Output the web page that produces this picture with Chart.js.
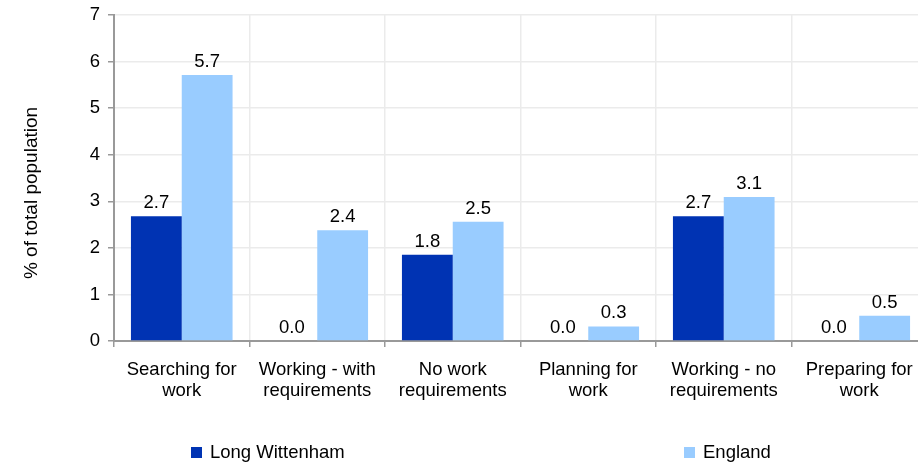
<!DOCTYPE html>
<html>
<head>
<meta charset="utf-8">
<script src="https://cdn.jsdelivr.net/npm/chart.js@4.4.0/dist/chart.umd.min.js"></script>
<style>
  html, body { margin: 0; padding: 0; background: #fff; overflow: hidden; }
  #wrap { position: relative; width: 927px; height: 463px; }
  #legend { position: absolute; left: 0; top: 0; width: 918px; height: 463px; pointer-events: none;
            font-family: "Liberation Sans", Arial, sans-serif; font-size: 18.5px; color: #000; }
  .li { position: absolute; display: flex; align-items: center; white-space: nowrap; }
  .sw { width: 11px; height: 11px; margin-right: 8px; }
</style>
</head>
<body>
<div id="wrap">
  <canvas id="c" width="927" height="463"></canvas>
  <div id="legend"></div>
</div>
<script>
const categories = [
  ["Searching for", "work"],
  ["Working - with", "requirements"],
  ["No work", "requirements"],
  ["Planning for", "work"],
  ["Working - no", "requirements"],
  ["Preparing for", "work"]
];
const seriesNames = ["Long Wittenham", "England"];
// bar heights
const longWittenham = [2.68, 0.0, 1.85, 0.0, 2.68, 0.0];
const england = [5.71, 2.38, 2.56, 0.31, 3.09, 0.54];
// value labels as printed on the chart
const longWittenhamLabels = ["2.7", "0.0", "1.8", "0.0", "2.7", "0.0"];
const englandLabels = ["5.7", "2.4", "2.5", "0.3", "3.1", "0.5"];
const seriesColors = ["#0033B3", "#99CCFF"];
const yTicks = [0, 1, 2, 3, 4, 5, 6, 7];
const yTitle = "% of total population";

const FONT = "'Liberation Sans', Arial, sans-serif";
const FS = 18.5;
const labelSets = [longWittenhamLabels, englandLabels];

const valueLabels = {
  id: 'valueLabels',
  afterDatasetsDraw(chart) {
    const ctx = chart.ctx;
    ctx.save();
    ctx.font = FS + "px " + FONT;
    ctx.fillStyle = "#000";
    ctx.textAlign = "center";
    ctx.textBaseline = "bottom";
    chart.data.datasets.forEach((ds, i) => {
      const meta = chart.getDatasetMeta(i);
      meta.data.forEach((bar, j) => {
        ctx.fillText(labelSets[i][j], bar.x, bar.y - 4);
      });
    });
    ctx.restore();
  }
};

const yTitlePlugin = {
  id: 'yTitlePlugin',
  afterDraw(chart) {
    const ctx = chart.ctx;
    const a = chart.chartArea;
    ctx.save();
    ctx.font = "19px " + FONT;
    ctx.fillStyle = "#000";
    ctx.textAlign = "center";
    ctx.textBaseline = "middle";
    ctx.translate(32, (a.top + a.bottom) / 2 + 15);
    ctx.rotate(-Math.PI / 2);
    ctx.fillText(yTitle, 0, 0);
    ctx.restore();
  }
};

const chart = new Chart(document.getElementById('c'), {
  type: 'bar',
  data: {
    labels: categories,
    datasets: [
      { label: seriesNames[0], data: longWittenham, backgroundColor: seriesColors[0] },
      { label: seriesNames[1], data: england, backgroundColor: seriesColors[1] }
    ]
  },
  options: {
    responsive: false,
    animation: false,
    devicePixelRatio: 1,
    layout: { padding: { top: 15, right: 0, bottom: 0, left: 0 } },
    plugins: { legend: { display: false }, tooltip: { enabled: false } },
    datasets: { bar: { categoryPercentage: 0.75, barPercentage: 1.0 } },
    scales: {
      x: {
        offset: true,
        grid: { offset: true, color: "#ebebeb", lineWidth: 1.5, tickColor: "#999", tickLength: 6, drawOnChartArea: true },
        border: { color: "#999", width: 2 },
        ticks: { color: "#000", font: { family: FONT, size: FS, lineHeight: 1.1 }, padding: 13, maxRotation: 0, autoSkip: false },
        afterFit(s) { s.height = 122; s.paddingLeft = 0; s.paddingRight = 0; }
      },
      y: {
        min: 0, max: 7,
        afterBuildTicks(s) { s.ticks = yTicks.map(v => ({ value: v })); },
        grid: { color: "#ebebeb", lineWidth: 1.5, tickColor: "#999", tickLength: 6 },
        border: { color: "#999", width: 2 },
        ticks: { color: "#000", font: { family: FONT, size: FS }, padding: 8 },
        afterFit(s) { s.width = 114; s.paddingTop = 0; s.paddingBottom = 0; }
      }
    }
  },
  plugins: [valueLabels, yTitlePlugin]
});

// legend (HTML) built from series names / colours
const legendPos = [191, 684];
const lg = document.getElementById('legend');
seriesNames.forEach((n, i) => {
  const d = document.createElement('div');
  d.className = 'li';
  d.style.left = legendPos[i] + 'px';
  d.style.top = '441px';
  d.innerHTML = '<span class="sw" style="background:' + seriesColors[i] + '"></span><span>' + n + '</span>';
  lg.appendChild(d);
});
</script>
</body>
</html>
